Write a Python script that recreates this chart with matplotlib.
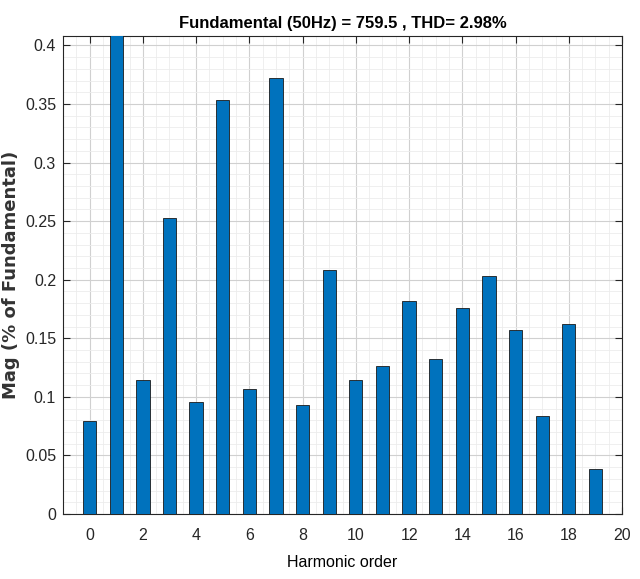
import matplotlib
matplotlib.use('Agg')
from matplotlib import pyplot as plt
from matplotlib.ticker import MultipleLocator
import numpy as np

harmonic_order = np.arange(20)
mag = [0.079, 0.45, 0.114, 0.253, 0.096, 0.353, 0.107, 0.372, 0.093, 0.208,
       0.114, 0.126, 0.182, 0.132, 0.176, 0.203, 0.157, 0.084, 0.162, 0.038]
title = 'Fundamental (50Hz) = 759.5 , THD= 2.98%'

narrow = ['Liberation Sans Narrow', 'Liberation Sans', 'DejaVu Sans']

fig = plt.figure(figsize=(6.4, 5.79), dpi=100)
ax = fig.add_axes([0.0984, 0.1123, 0.8736, 0.8255])

ax.bar(harmonic_order, mag, 0.5, color='#0072BD', edgecolor='#1a1a1a', linewidth=0.6, zorder=3)

ax.set_xlim(-1, 20)
ax.set_ylim(0, 0.408)
ax.xaxis.set_major_locator(MultipleLocator(2))
ax.xaxis.set_minor_locator(MultipleLocator(0.5))
ax.yaxis.set_major_locator(MultipleLocator(0.05))
ax.yaxis.set_minor_locator(MultipleLocator(0.01))
ax.set_yticks(np.arange(0, 0.41, 0.05))
ax.set_yticklabels(['0', '0.05', '0.1', '0.15', '0.2', '0.25', '0.3', '0.35', '0.4'])

ax.grid(which='major', color='#d0d0d0', linewidth=0.8, zorder=0)
ax.grid(which='minor', color='#ececec', linewidth=0.6, zorder=0)
ax.set_axisbelow(True)

ax.tick_params(which='both', direction='in', top=True, right=True, colors='#262626')
ax.tick_params(which='major', length=5, labelsize=11.5)
ax.tick_params(axis='x', which='major', pad=10)
ax.tick_params(axis='y', which='major', pad=5)
ax.tick_params(which='minor', length=0)
for lab in ax.get_xticklabels() + ax.get_yticklabels():
    lab.set_family(narrow)
for s in ax.spines.values():
    s.set_color('#262626')
    s.set_linewidth(0.8)

ax.set_title(title, family=narrow, fontsize=12, fontweight='bold', pad=6)
ax.set_xlabel('Harmonic order', family=narrow, fontsize=11.5)
ax.xaxis.set_label_coords(0.5, -0.085)
ax.set_ylabel('Mag (% of Fundamental)', fontsize=13, fontweight='bold', color='#333333')
ax.yaxis.set_label_coords(-0.077, 0.5)

plt.savefig('out.png', dpi=100)
